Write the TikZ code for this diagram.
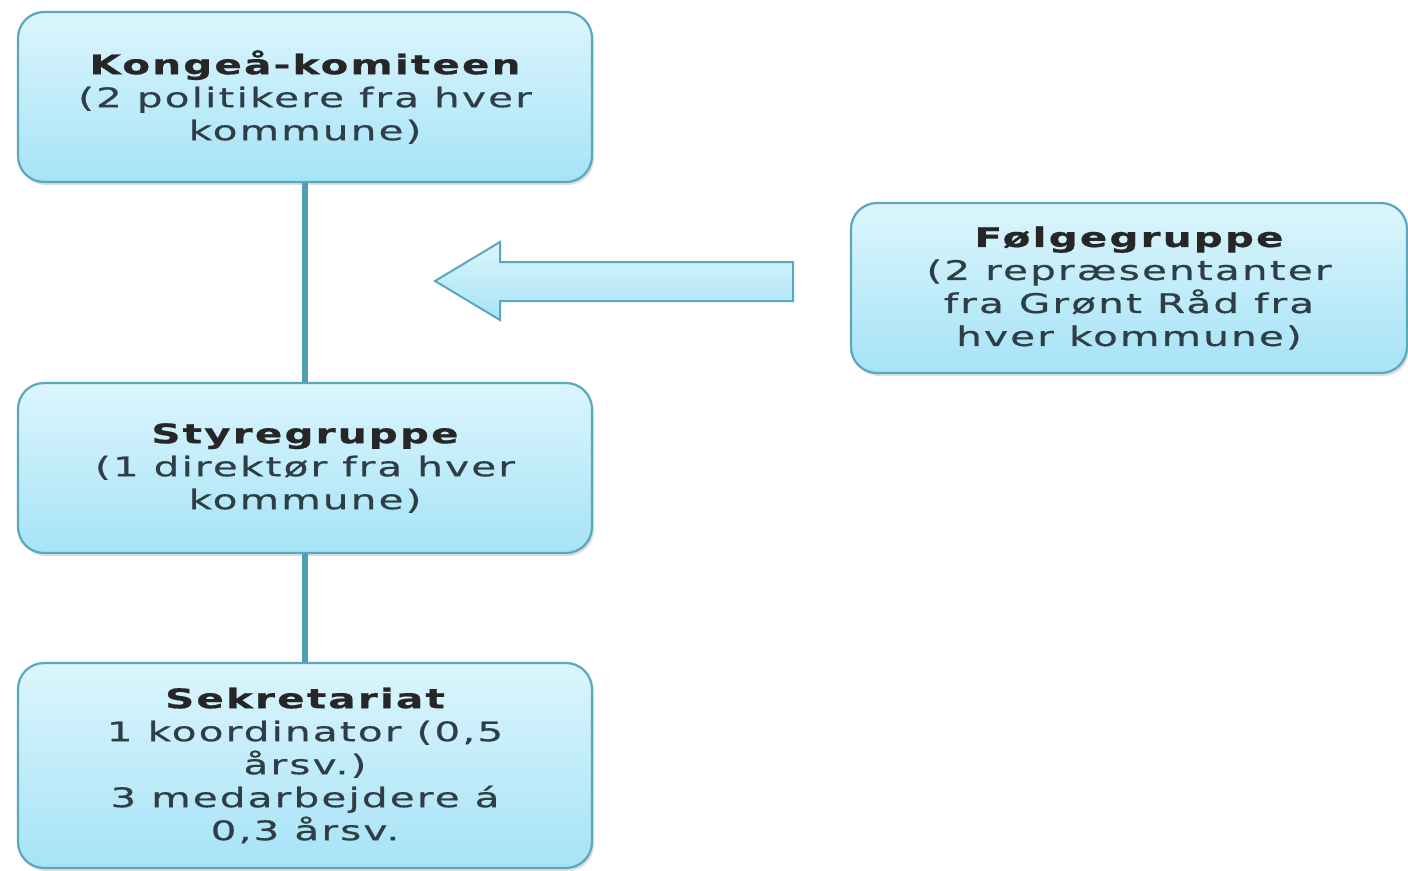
\documentclass[tikz,border=0pt]{standalone}
\usepackage{fontspec}
\setmainfont{DejaVu Sans}[FakeStretch=1.5, LetterSpace=8, FakeBold=0.6]
\usetikzlibrary{shadows}
\definecolor{bordc}{HTML}{5BA8BC}
\definecolor{linec}{HTML}{4F9FB3}
\definecolor{topc}{HTML}{DCF5FD}
\definecolor{botc}{HTML}{A6E3F7}
\definecolor{txtc}{HTML}{2E3E44}
\tikzset{
  orgbox/.style={draw=bordc, line width=2.2pt, rounded corners=26pt, top color=topc, bottom color=botc,
    minimum width=574pt, align=center, text=txtc, font=\fontsize{27}{33}\selectfont,
    drop shadow={shadow xshift=2pt, shadow yshift=-3pt, opacity=0.25, fill=gray}},
  conn/.style={draw=linec, line width=5.5pt},
  bigarrow/.style={draw=bordc, line width=2pt, top color=topc, bottom color=botc, line join=miter}
}
\begin{document}
\begin{tikzpicture}[x=1pt,y=-1pt]
\useasboundingbox[fill=white] (0,0) rectangle (1408,870);
\node[orgbox, minimum height=170pt] (komite) at (305,97)
  {\textbf{\color{black!85}Kongeå-komiteen}\\(2 politikere fra hver\\kommune)};
\node[orgbox, minimum height=170pt] (styre) at (305,468)
  {\textbf{\color{black!85}Styregruppe}\\(1 direktør fra hver\\kommune)};
\node[orgbox, minimum height=205pt] (sekr) at (305,765.5)
  {\textbf{\color{black!85}Sekretariat}\\1 koordinator (0,5\\årsv.)\\3 medarbejdere á\\0,3 årsv.};
\node[orgbox, minimum width=556pt, minimum height=170pt] (folge) at (1129,288)
  {\textbf{\color{black!85}Følgegruppe}\\(2 repræsentanter\\fra Grønt Råd fra\\hver kommune)};
\draw[conn] (komite.south) -- (styre.north);
\draw[conn] (styre.south) -- (sekr.north);
\coordinate (atip) at (435,281);
\coordinate (aend) at (793,281);
\draw[bigarrow] (atip) -- (500,242) -- (500,262) -- (aend |- 0,262) -- (aend |- 0,301) -- (500,301) -- (500,320) -- cycle;
\end{tikzpicture}
\end{document}
